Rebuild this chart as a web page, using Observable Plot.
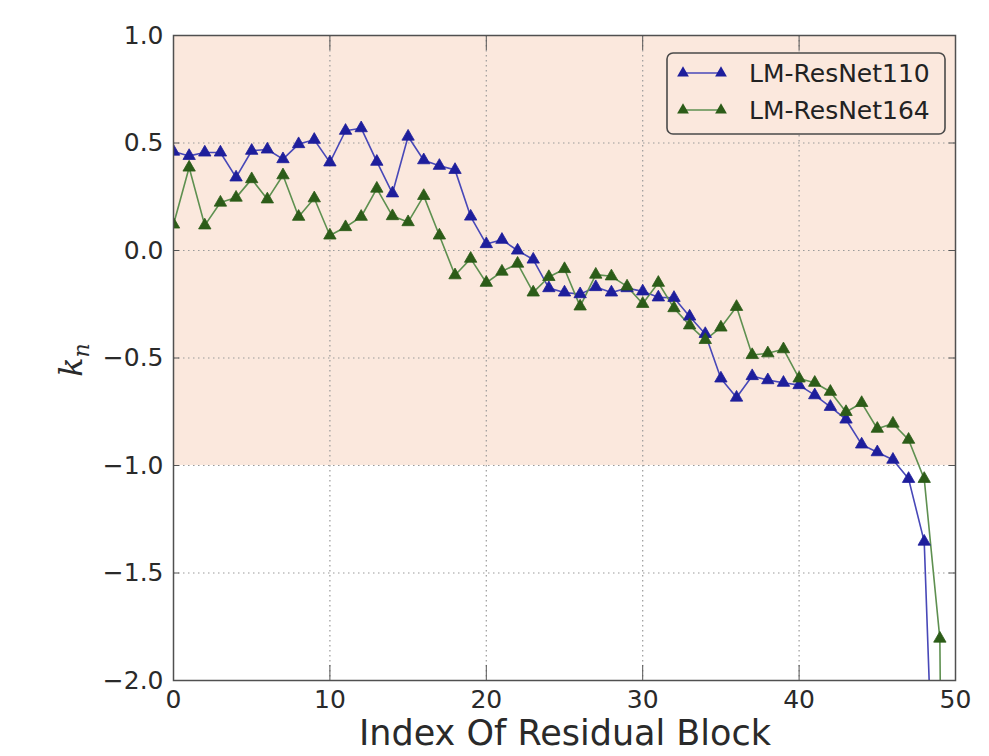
<!DOCTYPE html>
<html>
<head>
<meta charset="utf-8">
<script src="https://cdn.jsdelivr.net/npm/d3@7"></script>
<script src="https://cdn.jsdelivr.net/npm/@observablehq/plot@0.6"></script>
<style>
  html, body { margin: 0; padding: 0; background: #ffffff; }
  #chart { width: 989px; height: 756px; }
  svg { font-family: "DejaVu Sans", sans-serif; }
</style>
</head>
<body>
<div id="chart"></div>
<script>
// ---- data ----
const seriesNames = ["LM-ResNet110", "LM-ResNet164"];
const resnet110 = [0.46, 0.44, 0.456, 0.456, 0.34, 0.464, 0.47, 0.425, 0.495, 0.515,
  0.41, 0.557, 0.569, 0.413, 0.266, 0.53, 0.42, 0.394, 0.375, 0.158,
  0.03, 0.05, 0.0, -0.042, -0.175, -0.195, -0.203, -0.17, -0.195, -0.175,
  -0.19, -0.218, -0.22, -0.307, -0.388, -0.595, -0.684, -0.584, -0.603, -0.615,
  -0.626, -0.673, -0.727, -0.786, -0.902, -0.938, -0.973, -1.062, -1.354, -3.4];
const resnet164 = [0.121, 0.386, 0.117, 0.223, 0.246, 0.332, 0.238, 0.35, 0.157, 0.243,
  0.07, 0.109, 0.157, 0.288, 0.16, 0.132, 0.254, 0.07, -0.115, -0.038,
  -0.15, -0.098, -0.061, -0.195, -0.123, -0.086, -0.26, -0.112, -0.12, -0.167,
  -0.248, -0.15, -0.268, -0.348, -0.416, -0.358, -0.262, -0.486, -0.478, -0.459,
  -0.595, -0.615, -0.657, -0.751, -0.709, -0.829, -0.805, -0.88, -1.062, -1.805, -10];
const xTicks = [0, 10, 20, 30, 40, 50];
const yTicks = [1.0, 0.5, 0.0, -0.5, -1.0, -1.5, -2.0];
const band = [{x1: 0, x2: 50, y1: -1, y2: 1}];

const lineColors = ["#4848b8", "#5e9050"];
const markColors = ["#1e1e9c", "#2c5c18"];

const rows = [
  ...resnet110.map((v, i) => ({s: seriesNames[0], x: i, y: v})),
  ...resnet164.map((v, i) => ({s: seriesNames[1], x: i, y: v}))
];
const fmt = d => (d < 0 ? "\u2212" : "") + Math.abs(d).toFixed(1);

const chart = Plot.plot({
  width: 989,
  height: 756,
  marginLeft: 173,
  marginRight: 34,
  marginTop: 35,
  marginBottom: 76,
  style: {fontFamily: "DejaVu Sans, sans-serif", background: "#ffffff", overflow: "visible"},
  x: {domain: [0, 50], label: null},
  y: {domain: [-2, 1], label: null},
  color: {domain: seriesNames, range: lineColors},
  marks: [
    Plot.rect(band, {x1: "x1", x2: "x2", y1: "y1", y2: "y2", fill: "#fbe8dd"}),
    Plot.ruleX(xTicks.slice(1, -1), {stroke: "#9a9a9a", strokeWidth: 1.2, strokeDasharray: "1.5,3.5"}),
    Plot.ruleY(yTicks.slice(1, -1), {stroke: "#9a9a9a", strokeWidth: 1.2, strokeDasharray: "1.5,3.5"}),
    // inward ticks on all four sides
    Plot.ruleY(yTicks, {x1: 0, x2: 0.4, stroke: "#555"}),
    Plot.ruleY(yTicks, {x1: 49.6, x2: 50, stroke: "#555"}),
    Plot.ruleX(xTicks, {y1: -2, y2: -1.93, stroke: "#555"}),
    Plot.ruleX(xTicks, {y1: 0.93, y2: 1, stroke: "#555"}),
    Plot.line(rows, {x: "x", y: "y", z: "s", stroke: "s", strokeWidth: 1.6, clip: true}),
    Plot.dot(rows, {x: "x", y: "y", symbol: "triangle", r: 4.6,
      fill: d => d.s === seriesNames[0] ? markColors[0] : markColors[1],
      stroke: d => d.s === seriesNames[0] ? markColors[0] : markColors[1],
      strokeWidth: 0.8, clip: true}),
    Plot.frame({stroke: "#505050", strokeWidth: 1.5}),
    Plot.axisX(xTicks, {tickSize: 0, tickPadding: 10, fontSize: 25, fill: "#2a2a2a", tickFormat: d => String(d)}),
    Plot.axisY(yTicks, {tickSize: 0, tickPadding: 10, fontSize: 25, fill: "#2a2a2a", tickFormat: fmt})
  ]
});

document.getElementById("chart").appendChild(chart);

// axis titles and legend
const svg = d3.select(chart);
svg.append("text")
  .attr("x", 565).attr("y", 745)
  .attr("text-anchor", "middle")
  .attr("font-size", 35)
  .attr("fill", "#2a2a2a")
  .attr("font-family", "DejaVu Sans, sans-serif")
  .text("Index Of Residual Block");

const yl = svg.append("text")
  .attr("transform", "translate(82,360) rotate(-90)")
  .attr("text-anchor", "middle")
  .attr("fill", "#2a2a2a")
  .attr("font-family", "DejaVu Serif, serif")
  .attr("font-style", "italic")
  .attr("font-size", 32);
yl.append("tspan").text("k");
yl.append("tspan").attr("font-size", 22).attr("dy", 7).text("n");

const lg = svg.append("g");
lg.append("rect")
  .attr("x", 667).attr("y", 53).attr("width", 278).attr("height", 81)
  .attr("rx", 6).attr("fill", "#fbe8dd").attr("stroke", "#4a4a4a").attr("stroke-width", 1.6);
const tri = d3.symbol(d3.symbolTriangle, 60);
seriesNames.forEach((name, i) => {
  const yy = 73 + i * 37;
  lg.append("line").attr("x1", 683).attr("x2", 721).attr("y1", yy).attr("y2", yy)
    .attr("stroke", lineColors[i]).attr("stroke-width", 1.6);
  [683, 721].forEach(xx => {
    lg.append("path").attr("d", tri()).attr("transform", `translate(${xx},${yy})`)
      .attr("fill", markColors[i]);
  });
  lg.append("text").attr("x", 749).attr("y", yy + 9)
    .attr("text-anchor", "start")
    .attr("font-size", 25).attr("fill", "#222")
    .attr("font-family", "DejaVu Sans, sans-serif")
    .text(name);
});
</script>
</body>
</html>
